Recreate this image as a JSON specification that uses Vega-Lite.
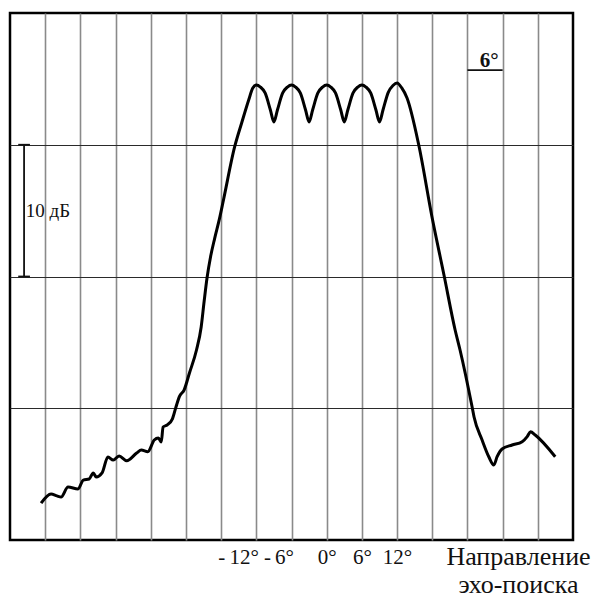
{
  "$schema": "https://vega.github.io/schema/vega-lite/v6.json",
  "width": 563,
  "height": 527,
  "autosize": {"type": "none"},
  "padding": {"left": 10, "top": 13, "right": 26, "bottom": 59},
  "background": "white",
  "config": {"view": {"stroke": "#000", "strokeWidth": 2.5}, "font": "Liberation Serif"},
  "datasets": {
    "curve": [
      {"deg": -48.7, "db": 2.79}, {"deg": -47.0, "db": 3.49}, {"deg": -46.0, "db": 3.35}, {"deg": -45.3, "db": 3.26},
      {"deg": -44.1, "db": 4.02}, {"deg": -42.4, "db": 3.87}, {"deg": -41.5, "db": 4.55}, {"deg": -40.5, "db": 4.63},
      {"deg": -39.8, "db": 5.09}, {"deg": -39.3, "db": 4.78}, {"deg": -38.3, "db": 5.09}, {"deg": -37.3, "db": 6.30},
      {"deg": -36.4, "db": 6.07}, {"deg": -35.4, "db": 6.38}, {"deg": -34.1, "db": 6.02}, {"deg": -32.4, "db": 6.60},
      {"deg": -31.6, "db": 6.83}, {"deg": -30.5, "db": 6.70}, {"deg": -29.4, "db": 7.59}, {"deg": -28.7, "db": 7.74},
      {"deg": -28.2, "db": 7.44}, {"deg": -27.9, "db": 8.58}, {"deg": -27.2, "db": 8.73}, {"deg": -26.3, "db": 9.20},
      {"deg": -25.7, "db": 10.09}, {"deg": -25.1, "db": 10.90}, {"deg": -24.3, "db": 11.40}, {"deg": -23.4, "db": 12.68},
      {"deg": -22.2, "db": 14.42}, {"deg": -21.4, "db": 16.17}, {"deg": -20.9, "db": 18.10}, {"deg": -20.4, "db": 19.90},
      {"deg": -19.8, "db": 21.50}, {"deg": -19.1, "db": 22.90}, {"deg": -18.3, "db": 24.35}, {"deg": -17.6, "db": 25.81},
      {"deg": -15.7, "db": 29.83}, {"deg": -14.5, "db": 31.65}, {"deg": -13.3, "db": 33.40}, {"deg": -12.6, "db": 34.30},
      {"deg": -12.0, "db": 34.53}, {"deg": -11.3, "db": 34.38}, {"deg": -10.5, "db": 33.93}, {"deg": -9.6, "db": 32.64},
      {"deg": -9.0, "db": 31.73}, {"deg": -8.4, "db": 32.64}, {"deg": -7.5, "db": 33.93}, {"deg": -6.7, "db": 34.38},
      {"deg": -6.0, "db": 34.53}, {"deg": -5.3, "db": 34.38}, {"deg": -4.5, "db": 33.93}, {"deg": -3.6, "db": 32.64},
      {"deg": -3.0, "db": 31.73}, {"deg": -2.4, "db": 32.64}, {"deg": -1.5, "db": 33.93}, {"deg": -0.7, "db": 34.38},
      {"deg": 0.0, "db": 34.53}, {"deg": 0.7, "db": 34.38}, {"deg": 1.5, "db": 33.93}, {"deg": 2.4, "db": 32.64},
      {"deg": 3.0, "db": 31.73}, {"deg": 3.6, "db": 32.64}, {"deg": 4.5, "db": 33.93}, {"deg": 5.3, "db": 34.38},
      {"deg": 6.0, "db": 34.53}, {"deg": 6.7, "db": 34.38}, {"deg": 7.5, "db": 33.93}, {"deg": 8.4, "db": 32.64},
      {"deg": 9.0, "db": 31.73}, {"deg": 9.6, "db": 32.64}, {"deg": 10.5, "db": 33.98}, {"deg": 11.3, "db": 34.50},
      {"deg": 12.0, "db": 34.69}, {"deg": 12.8, "db": 34.31}, {"deg": 13.7, "db": 33.55}, {"deg": 15.7, "db": 29.98},
      {"deg": 17.95, "db": 24.54}, {"deg": 20.0, "db": 20.11}, {"deg": 21.9, "db": 15.94}, {"deg": 22.74, "db": 14.42},
      {"deg": 24.8, "db": 10.09}, {"deg": 25.13, "db": 9.34}, {"deg": 26.5, "db": 7.59}, {"deg": 27.64, "db": 6.32},
      {"deg": 28.5, "db": 5.69}, {"deg": 29.06, "db": 6.32}, {"deg": 29.91, "db": 6.91}, {"deg": 31.62, "db": 7.21},
      {"deg": 33.33, "db": 7.46}, {"deg": 34.19, "db": 7.84}, {"deg": 34.75, "db": 8.22}, {"deg": 35.56, "db": 7.97},
      {"deg": 38.97, "db": 6.32}
    ],
    "bars": [
      {"deg": -51.6, "db": 20, "deg2": -51.6, "db2": 30, "kind": "scale"},
      {"deg": -52.6, "db": 30, "deg2": -50.6, "db2": 30, "kind": "scale"},
      {"deg": -52.6, "db": 20, "deg2": -50.6, "db2": 20, "kind": "scale"},
      {"deg": 24, "db": 35.67, "deg2": 30, "db2": 35.67, "kind": "angle"}
    ],
    "dbLabel": [{"deg": -51.3, "db": 25, "label": "10 дБ"}],
    "angleLabel": [{"deg": 27.7, "db": 35.9, "label": "6°"}]
  },
  "encoding": {
    "x": {
      "field": "deg",
      "type": "quantitative",
      "scale": {"domain": [-54, 42], "nice": false, "zero": false},
      "axis": {
        "title": ["Направление", "эхо-поиска"],
        "titleFont": "Liberation Serif",
        "titleFontSize": 26,
        "titleFontWeight": "normal",
        "titleColor": "#111",
        "titleX": 508,
        "titleY": 24,
        "titleAlign": "center",
        "titleBaseline": "alphabetic",
        "titleLineHeight": 28,
        "values": [-48, -42, -36, -30, -24, -18, -12, -6, 0, 6, 12, 18, 24, 30, 36],
        "grid": true,
        "gridColor": "#8a8a8a",
        "gridWidth": 1.6,
        "domain": false,
        "ticks": false,
        "tickSize": 0,
        "labelExpr": "datum.value >= -12 && datum.value <= 12 ? (datum.value < 0 ? '-\u2009' + abs(datum.value) + '°' : datum.value + '°') : ''",
        "labelFont": "Liberation Serif",
        "labelFontSize": 21,
        "labelColor": "#111",
        "labelPadding": 23,
        "labelBaseline": "alphabetic",
        "labelAlign": {"condition": {"test": "datum.value < 0", "value": "right"}, "value": "center"},
        "labelOffset": {"condition": {"test": "datum.value < 0", "value": 2}, "value": 0},
        "labelOverlap": false,
        "labelFlush": false,
        "labelBound": false
      }
    },
    "y": {
      "field": "db",
      "type": "quantitative",
      "scale": {"domain": [0, 40], "nice": false, "zero": false},
      "axis": {
        "title": null,
        "values": [10, 20, 30],
        "grid": true,
        "gridColor": "#2a2a2a",
        "gridWidth": 1.2,
        "domain": false,
        "ticks": false,
        "labels": false
      }
    }
  },
  "layer": [
    {
      "data": {"name": "curve"},
      "mark": {"type": "line", "color": "#000", "strokeWidth": 3, "interpolate": "monotone"}
    },
    {
      "data": {"name": "bars"},
      "mark": {"type": "rule", "color": "#111", "strokeWidth": 1.8},
      "encoding": {
        "x2": {"field": "deg2"},
        "y2": {"field": "db2"}
      }
    },
    {
      "data": {"name": "dbLabel"},
      "mark": {"type": "text", "align": "left", "baseline": "middle", "font": "Liberation Serif", "fontSize": 19, "color": "#111"},
      "encoding": {"text": {"field": "label"}}
    },
    {
      "data": {"name": "angleLabel"},
      "mark": {"type": "text", "align": "center", "baseline": "alphabetic", "font": "Liberation Serif", "fontSize": 21, "fontWeight": "bold", "color": "#111"},
      "encoding": {"text": {"field": "label"}}
    }
  ]
}
